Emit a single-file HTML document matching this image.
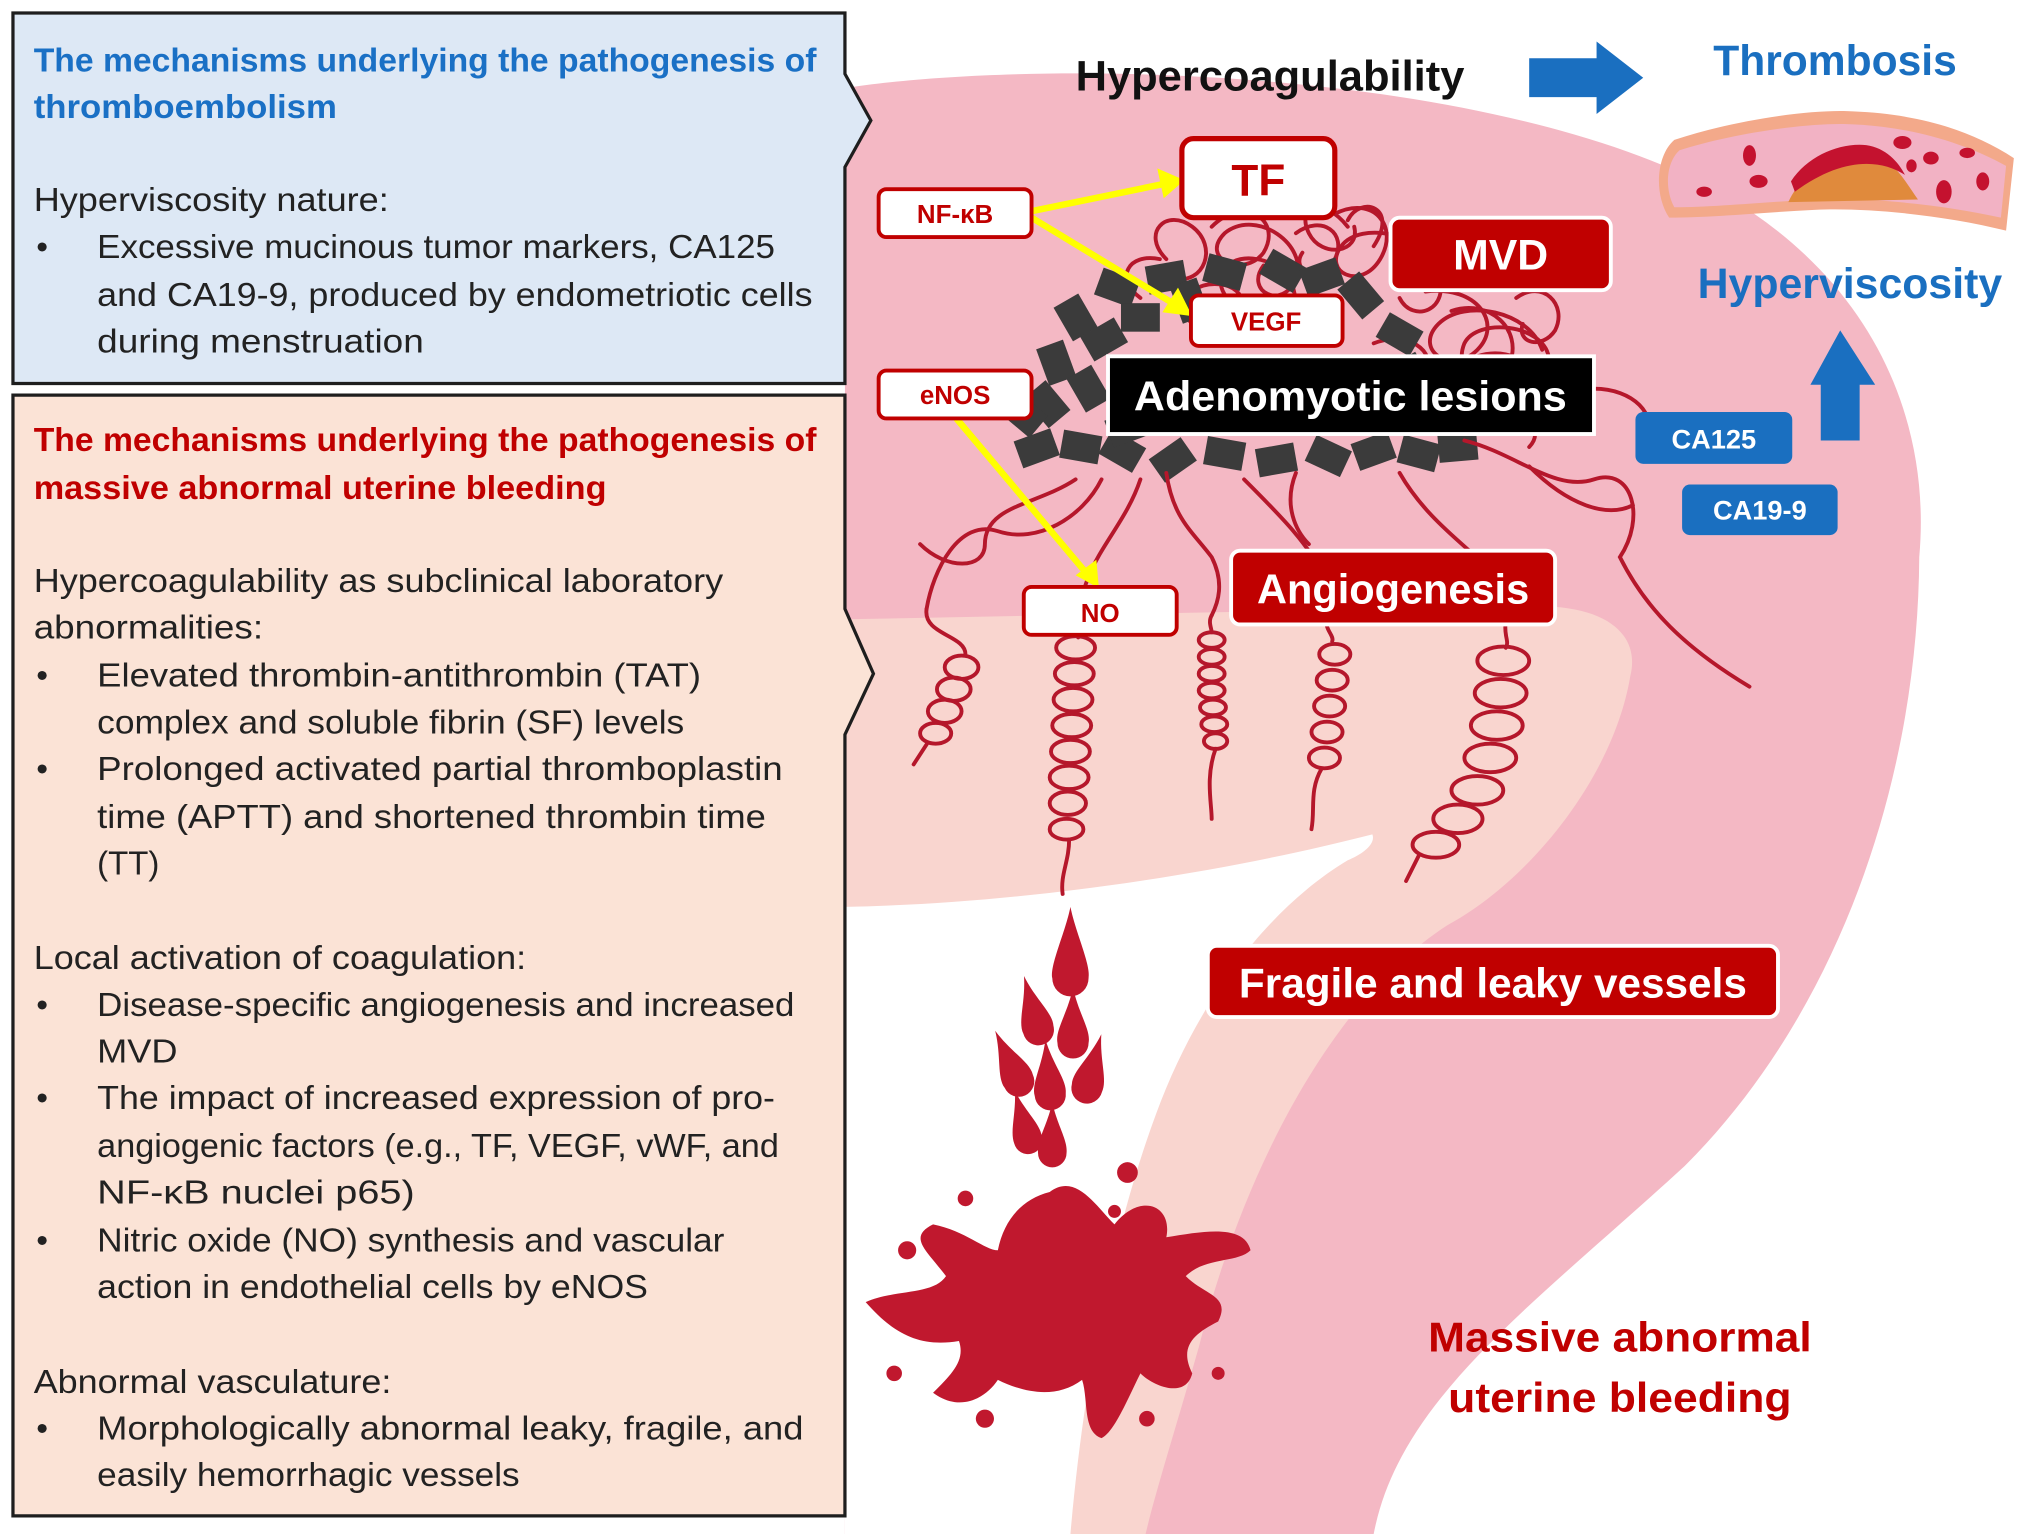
<!DOCTYPE html>
<html><head><meta charset="utf-8"><style>
html,body{margin:0;padding:0;background:#fff;}
svg{display:block;}
text{font-family:"Liberation Sans",sans-serif;}
</style></head><body>
<svg width="2032" height="1534" viewBox="0 0 1568 1184" preserveAspectRatio="none" xmlns="http://www.w3.org/2000/svg">
<rect width="1568" height="1184" fill="#fff"/>
<!-- uterus -->
<path d="M652,68 C800,45 1150,50 1330,150 C1450,220 1490,330 1481,430 C1480,600 1420,780 1300,900 C1180,1010 1080,1080 1060,1184 L652,1184 Z" fill="#f4b8c4"/>
<path d="M652,478 L1180,468 C1240,466 1266,490 1258,522 C1245,600 1180,680 1117,714 C1030,770 960,900 925,1040 C908,1100 892,1150 884,1184 L652,1184 Z" fill="#f9d5cf"/>
<path d="M652,700 C800,697 950,672 1059,644 C1062,652 1050,660 1040,664 C980,700 925,770 892,860 C855,960 835,1080 826,1184 L652,1184 Z" fill="#fff"/>

<!-- red tangled mass (behind tiles) -->
<g fill="none" stroke="#b5172b" stroke-width="3" stroke-linecap="round">
<path d="M935,175 C960,150 990,170 975,195 C960,215 925,200 945,180 C970,160 1010,190 1000,215 C990,240 960,225 975,205"/>
<path d="M1030,165 C1060,150 1080,175 1065,200 C1050,225 1020,210 1035,190 C1050,170 1100,180 1110,210 C1120,240 1090,250 1080,230"/>
<path d="M960,240 C930,225 940,195 970,200 C1000,205 1010,240 985,250"/>
<path d="M1100,225 C1140,220 1160,250 1140,270 C1120,290 1090,270 1110,250 C1130,230 1180,240 1190,270"/>
<path d="M1140,275 C1170,265 1200,290 1185,315 C1170,335 1140,320 1160,300"/>
<path d="M1060,190 C1080,160 1050,150 1040,170"/>
<path d="M900,200 C880,180 900,160 920,175 C940,190 930,220 905,215"/>
<path d="M1100,195 C1130,175 1160,195 1150,220"/>
<path d="M1040,175 C1020,150 1000,160 1010,180 C1020,200 1050,195 1045,175"/>
<path d="M1120,240 C1150,230 1175,255 1165,280 C1150,300 1120,290 1130,265 C1140,245 1190,250 1195,275"/>
<path d="M1170,230 C1190,215 1210,235 1200,255 C1190,270 1170,265 1175,250"/>
<path d="M880,230 C860,215 870,195 895,200"/>
<path d="M1000,180 C1020,165 1040,180 1030,200 C1020,220 995,210 1005,195"/>
<path d="M1150,300 C1170,310 1195,330 1180,345"/>
<path d="M1060,265 C1085,255 1110,270 1100,290"/>
<path d="M920,250 C905,235 920,215 945,220 C965,225 965,250 940,255"/>
</g>

<!-- gray tiles -->
<g fill="#3b3b3b">
<rect x="-15" y="-11" width="30" height="22" transform="translate(830,245) rotate(60)"/>
<rect x="-15" y="-11" width="30" height="22" transform="translate(862,222) rotate(20)"/>
<rect x="-15" y="-11" width="30" height="22" transform="translate(900,214) rotate(-10)"/>
<rect x="-15" y="-11" width="30" height="22" transform="translate(945,210) rotate(15)"/>
<rect x="-15" y="-11" width="30" height="22" transform="translate(990,209) rotate(30)"/>
<rect x="-15" y="-11" width="30" height="22" transform="translate(1050,228) rotate(50)"/>
<rect x="-15" y="-11" width="30" height="22" transform="translate(1080,258) rotate(30)"/>
<rect x="-15" y="-11" width="30" height="22" transform="translate(815,280) rotate(70)"/>
<rect x="-15" y="-11" width="30" height="22" transform="translate(852,262) rotate(-30)"/>
<rect x="-15" y="-11" width="30" height="22" transform="translate(808,312) rotate(50)"/>
<rect x="-15" y="-11" width="30" height="22" transform="translate(840,300) rotate(60)"/>
<rect x="-15" y="-11" width="30" height="22" transform="translate(800,346) rotate(-20)"/>
<rect x="-15" y="-11" width="30" height="22" transform="translate(834,345) rotate(10)"/>
<rect x="-15" y="-11" width="30" height="22" transform="translate(866,348) rotate(30)"/>
<rect x="-15" y="-11" width="30" height="22" transform="translate(905,355) rotate(-35)"/>
<rect x="-15" y="-11" width="30" height="22" transform="translate(945,350) rotate(10)"/>
<rect x="-15" y="-11" width="30" height="22" transform="translate(985,355) rotate(-10)"/>
<rect x="-15" y="-11" width="30" height="22" transform="translate(1025,352) rotate(25)"/>
<rect x="-15" y="-11" width="30" height="22" transform="translate(1060,348) rotate(-20)"/>
<rect x="-15" y="-11" width="30" height="22" transform="translate(1095,350) rotate(15)"/>
<rect x="-15" y="-11" width="30" height="22" transform="translate(1125,345) rotate(-5)"/>
<rect x="-15" y="-11" width="30" height="22" transform="translate(880,245) rotate(0)"/>
<rect x="-15" y="-11" width="30" height="22" transform="translate(1020,214) rotate(-20)"/>
<rect x="-15" y="-11" width="30" height="22" transform="translate(1090,290) rotate(60)"/>
<rect x="-15" y="-11" width="30" height="22" transform="translate(790,320) rotate(40)"/>
<rect x="-15" y="-11" width="30" height="22" transform="translate(870,330) rotate(-20)"/>
<rect x="-15" y="-11" width="30" height="22" transform="translate(918,232) rotate(70)"/>
</g>

<!-- red vessels -->
<g fill="none" stroke="#b5172b" stroke-width="3" stroke-linecap="round">
<path d="M830,370 C800,390 760,390 760,420 C760,440 730,440 710,420"/>
<path d="M850,370 C835,400 800,420 770,410 C740,400 720,440 715,470"/>
<path d="M880,370 C870,400 850,420 840,445"/>
<path d="M900,365 C905,400 920,410 935,430 C945,450 940,465 935,475"/>
<path d="M960,370 C990,400 1010,420 1025,450 C1030,460 1030,470 1025,475"/>
<path d="M1000,365 C990,390 1000,410 1010,420"/>
<path d="M1080,365 C1100,400 1130,420 1150,440 C1160,455 1165,470 1162,480"/>
<path d="M1130,340 C1170,350 1200,380 1230,370 C1260,360 1270,400 1250,430 C1270,470 1300,500 1350,530"/>
<path d="M1180,360 C1210,390 1240,400 1260,390"/>
<path d="M1230,300 C1260,300 1280,320 1270,340"/>
<path d="M715,470 C712,490 745,490 745,505"/>
<ellipse cx="742" cy="515" rx="13" ry="9"/><ellipse cx="736" cy="532" rx="13" ry="9"/><ellipse cx="729" cy="549" rx="13" ry="9"/><ellipse cx="722" cy="566" rx="12" ry="8"/>
<path d="M716,573 L705,590"/>
<path d="M840,445 C830,470 835,480 832,492"/>
<ellipse cx="830" cy="500" rx="15" ry="9"/><ellipse cx="829" cy="520" rx="15" ry="9"/><ellipse cx="828" cy="540" rx="15" ry="9"/><ellipse cx="827" cy="560" rx="15" ry="9"/><ellipse cx="826" cy="580" rx="15" ry="9"/><ellipse cx="825" cy="600" rx="15" ry="9"/><ellipse cx="824" cy="620" rx="14" ry="9"/><ellipse cx="823" cy="640" rx="13" ry="8"/>
<path d="M825,648 C825,665 818,675 820,690"/>
<path d="M935,475 C932,480 935,485 935,488"/>
<ellipse cx="935" cy="494" rx="10" ry="6"/><ellipse cx="935" cy="507" rx="10" ry="6"/><ellipse cx="935" cy="520" rx="10" ry="6"/><ellipse cx="935" cy="533" rx="10" ry="6"/><ellipse cx="936" cy="546" rx="10" ry="6"/><ellipse cx="937" cy="559" rx="10" ry="6"/><ellipse cx="938" cy="572" rx="9" ry="6"/>
<path d="M938,578 C930,600 935,620 935,632"/>
<path d="M1025,475 C1020,485 1030,490 1028,495"/>
<ellipse cx="1030" cy="505" rx="12" ry="8"/><ellipse cx="1028" cy="525" rx="12" ry="8"/><ellipse cx="1026" cy="545" rx="12" ry="8"/><ellipse cx="1024" cy="565" rx="12" ry="8"/><ellipse cx="1022" cy="585" rx="12" ry="8"/>
<path d="M1020,593 C1010,610 1015,625 1012,640"/>
<path d="M1162,480 C1160,490 1165,495 1162,500"/>
<ellipse cx="1160" cy="510" rx="20" ry="11"/><ellipse cx="1158" cy="535" rx="20" ry="11"/><ellipse cx="1155" cy="560" rx="20" ry="11"/><ellipse cx="1150" cy="585" rx="20" ry="11"/><ellipse cx="1140" cy="610" rx="20" ry="11"/><ellipse cx="1125" cy="632" rx="19" ry="11"/><ellipse cx="1108" cy="652" rx="18" ry="10"/>
<path d="M1095,660 L1085,680"/>
</g>

<!-- blood drops -->
<g fill="#c0182e">
<path d="M826,700 C830,720 842,745 840,755 A14,14 0 0 1 812,755 C810,745 822,720 826,700 Z"/>
<path d="M0,-38 C4,-18 14,-5 12,5 A12,12 0 0 1 -12,5 C-14,-5 -4,-18 0,-38 Z" transform="translate(800,790) rotate(-15)"/>
<path d="M0,-38 C4,-18 14,-5 12,5 A12,12 0 0 1 -12,5 C-14,-5 -4,-18 0,-38 Z" transform="translate(828,800)"/>
<path d="M0,-38 C4,-18 14,-5 12,5 A12,12 0 0 1 -12,5 C-14,-5 -4,-18 0,-38 Z" transform="translate(784,830) rotate(-25)"/>
<path d="M0,-38 C4,-18 14,-5 12,5 A12,12 0 0 1 -12,5 C-14,-5 -4,-18 0,-38 Z" transform="translate(810,840) rotate(-5)"/>
<path d="M0,-38 C4,-18 14,-5 12,5 A12,12 0 0 1 -12,5 C-14,-5 -4,-18 0,-38 Z" transform="translate(840,835) rotate(15)"/>
<path d="M0,-34 C4,-16 12,-5 11,5 A11,11 0 0 1 -11,5 C-12,-5 -4,-16 0,-34 Z" transform="translate(792,875) rotate(-15)"/>
<path d="M0,-34 C4,-16 12,-5 11,5 A11,11 0 0 1 -11,5 C-12,-5 -4,-16 0,-34 Z" transform="translate(812,885)"/>
<path d="M810,920 C830,905 845,930 860,945 C880,920 905,930 900,955 C930,950 960,945 965,965 C955,975 930,970 915,985 C930,1000 950,1000 940,1020 C920,1030 910,1040 920,1060 C915,1080 890,1070 880,1060 C870,1080 860,1105 850,1110 C835,1105 840,1080 835,1065 C815,1080 790,1075 770,1065 C760,1080 740,1090 720,1075 C735,1060 745,1050 740,1035 C710,1040 690,1030 668,1005 C690,995 720,1000 730,985 C715,965 700,955 720,945 C745,950 760,965 770,965 C775,940 790,925 810,920 Z"/>
<circle cx="700" cy="965" r="7"/><circle cx="745" cy="925" r="6"/><circle cx="870" cy="905" r="8"/><circle cx="690" cy="1060" r="6"/><circle cx="760" cy="1095" r="7"/><circle cx="885" cy="1095" r="6"/><circle cx="940" cy="1060" r="5"/><circle cx="860" cy="935" r="5"/>
</g>

<!-- left boxes -->
<path d="M10,10 H652 V57 L672,93 L652,129 V296 H10 Z" fill="#dde8f5" stroke="#1e1e1e" stroke-width="2.5"/>
<path d="M10,305 H652 V470 L674,520 L652,567 V1170 H10 Z" fill="#fbe3d6" stroke="#1e1e1e" stroke-width="2.5"/>
<g font-size="26" fill="#222">
<g font-weight="bold" fill="#1a70c5">
<text x="26" y="55" textLength="604" lengthAdjust="spacingAndGlyphs">The mechanisms underlying the pathogenesis of</text>
<text x="26" y="91" textLength="234" lengthAdjust="spacingAndGlyphs">thromboembolism</text>
</g>
<text x="26" y="163" textLength="274" lengthAdjust="spacingAndGlyphs">Hyperviscosity nature:</text>
<text x="28" y="199">•</text>
<text x="75" y="199" textLength="523" lengthAdjust="spacingAndGlyphs">Excessive mucinous tumor markers, CA125</text>
<text x="75" y="236" textLength="552" lengthAdjust="spacingAndGlyphs">and CA19-9, produced by endometriotic cells</text>
<text x="75" y="272" textLength="252" lengthAdjust="spacingAndGlyphs">during menstruation</text>
<g font-weight="bold" fill="#c00000">
<text x="26" y="348" textLength="604" lengthAdjust="spacingAndGlyphs">The mechanisms underlying the pathogenesis of</text>
<text x="26" y="385" textLength="442" lengthAdjust="spacingAndGlyphs">massive abnormal uterine bleeding</text>
</g>
<text x="26" y="457" textLength="532" lengthAdjust="spacingAndGlyphs">Hypercoagulability as subclinical laboratory</text>
<text x="26" y="493" textLength="177" lengthAdjust="spacingAndGlyphs">abnormalities:</text>
<text x="28" y="530">•</text>
<text x="75" y="530" textLength="466" lengthAdjust="spacingAndGlyphs">Elevated thrombin-antithrombin (TAT)</text>
<text x="75" y="566" textLength="453" lengthAdjust="spacingAndGlyphs">complex and soluble fibrin (SF) levels</text>
<text x="28" y="602">•</text>
<text x="75" y="602" textLength="529" lengthAdjust="spacingAndGlyphs">Prolonged activated partial thromboplastin</text>
<text x="75" y="639" textLength="516" lengthAdjust="spacingAndGlyphs">time (APTT) and shortened thrombin time</text>
<text x="75" y="675" textLength="48" lengthAdjust="spacingAndGlyphs">(TT)</text>
<text x="26" y="748" textLength="380" lengthAdjust="spacingAndGlyphs">Local activation of coagulation:</text>
<text x="28" y="784">•</text>
<text x="75" y="784" textLength="538" lengthAdjust="spacingAndGlyphs">Disease-specific angiogenesis and increased</text>
<text x="75" y="820" textLength="62" lengthAdjust="spacingAndGlyphs">MVD</text>
<text x="28" y="856">•</text>
<text x="75" y="856" textLength="523" lengthAdjust="spacingAndGlyphs">The impact of increased expression of pro-</text>
<text x="75" y="893" textLength="526" lengthAdjust="spacingAndGlyphs">angiogenic factors (e.g., TF, VEGF, vWF, and</text>
<text x="75" y="929" textLength="245" lengthAdjust="spacingAndGlyphs">NF-κB nuclei p65)</text>
<text x="28" y="966">•</text>
<text x="75" y="966" textLength="484" lengthAdjust="spacingAndGlyphs">Nitric oxide (NO) synthesis and vascular</text>
<text x="75" y="1002" textLength="425" lengthAdjust="spacingAndGlyphs">action in endothelial cells by eNOS</text>
<text x="26" y="1075" textLength="276" lengthAdjust="spacingAndGlyphs">Abnormal vasculature:</text>
<text x="28" y="1111">•</text>
<text x="75" y="1111" textLength="545" lengthAdjust="spacingAndGlyphs">Morphologically abnormal leaky, fragile, and</text>
<text x="75" y="1147" textLength="326" lengthAdjust="spacingAndGlyphs">easily hemorrhagic vessels</text>
</g>

<!-- top labels -->
<text x="830" y="70" font-size="33" font-weight="bold" fill="#111" textLength="300" lengthAdjust="spacingAndGlyphs">Hypercoagulability</text>
<path d="M1180,45 H1232 V32 L1268,60 L1232,88 V75 H1180 Z" fill="#1a6fc0"/>
<text x="1322" y="58" font-size="33" font-weight="bold" fill="#1a6fc0" textLength="188" lengthAdjust="spacingAndGlyphs">Thrombosis</text>
<!-- vessel -->
<path d="M1292,108 C1340,92 1400,84 1430,86 C1480,88 1520,100 1554,122 L1548,178 C1500,166 1440,160 1400,162 C1360,164 1320,168 1288,168 C1276,150 1278,120 1292,108 Z" fill="#f3a98a"/>
<path d="M1296,116 C1340,102 1400,94 1430,96 C1475,98 1515,110 1548,128 L1544,168 C1500,158 1440,152 1400,154 C1360,156 1322,160 1292,160 C1284,145 1286,125 1296,116 Z" fill="#f2b2c4"/>
<path d="M1380,156 C1395,125 1420,118 1440,118 C1460,120 1470,140 1480,154 Z" fill="#e08a3c"/>
<path d="M1382,140 C1395,120 1420,110 1440,112 C1455,114 1465,125 1470,135 C1450,122 1420,122 1385,148 Z" fill="#c4122f"/>
<g fill="#c4122f"><ellipse cx="1350" cy="120" rx="5" ry="8"/><ellipse cx="1315" cy="148" rx="6" ry="4"/><ellipse cx="1357" cy="140" rx="7" ry="5"/><ellipse cx="1468" cy="110" rx="7" ry="5"/><ellipse cx="1490" cy="122" rx="6" ry="5"/><ellipse cx="1518" cy="118" rx="6" ry="4"/><ellipse cx="1500" cy="148" rx="6" ry="9"/><ellipse cx="1530" cy="140" rx="5" ry="7"/><ellipse cx="1475" cy="128" rx="4" ry="5"/></g>
<text x="1310" y="230" font-size="33" font-weight="bold" fill="#1a6fc0" textLength="235" lengthAdjust="spacingAndGlyphs">Hyperviscosity</text>
<path d="M1405,340 V297 H1397 L1420,255 L1447,297 H1435 V340 Z" fill="#1a6fc0"/>
<rect x="1262" y="318" width="121" height="40" rx="6" fill="#1a6fc0"/>
<text x="1322.5" y="346" font-size="21" font-weight="bold" fill="#fff" text-anchor="middle">CA125</text>
<rect x="1298" y="374" width="120" height="39" rx="6" fill="#1a6fc0"/>
<text x="1358" y="401" font-size="21" font-weight="bold" fill="#fff" text-anchor="middle">CA19-9</text>

<!-- yellow arrows -->
<g stroke="#ffff00" stroke-width="5" fill="none">
<line x1="796" y1="163" x2="898" y2="142"/>
<line x1="796" y1="168" x2="905" y2="234"/>
<line x1="738" y1="323" x2="838" y2="442"/>
</g>
<g fill="#ffff00">
<path d="M914,139 L893,130 L898,153 Z"/>
<path d="M920,244 L897,241 L909,222 Z"/>
<path d="M848,454 L830,444 L846,432 Z"/>
</g>

<!-- small red boxes -->
<g stroke="#c00000" fill="#fff">
<rect x="912" y="107" width="118" height="61" rx="9" stroke-width="4"/>
<rect x="678" y="146" width="118" height="37" rx="6" stroke-width="3"/>
<rect x="919" y="228" width="117" height="39" rx="6" stroke-width="3"/>
<rect x="678" y="286" width="118" height="37" rx="6" stroke-width="3"/>
<rect x="790" y="453" width="118" height="37" rx="6" stroke-width="3"/>
</g>
<g fill="#c00000" font-weight="bold" text-anchor="middle">
<text x="971" y="151" font-size="34">TF</text>
<text x="737" y="172" font-size="20">NF-κB</text>
<text x="977" y="255" font-size="20">VEGF</text>
<text x="737" y="312" font-size="20">eNOS</text>
<text x="849" y="480" font-size="20">NO</text>
</g>
<g fill="#c00000" stroke="#fff" stroke-width="3">
<rect x="1073" y="168" width="170" height="56" rx="7"/>
<rect x="950" y="425" width="250" height="57" rx="7"/>
<rect x="932" y="730" width="440" height="55" rx="7"/>
</g>
<rect x="855" y="275" width="375" height="60" fill="#000" stroke="#fff" stroke-width="3"/>
<g fill="#fff" font-weight="bold" text-anchor="middle">
<text x="1158" y="208" font-size="33">MVD</text>
<text x="1075" y="466" font-size="32" textLength="210" lengthAdjust="spacingAndGlyphs">Angiogenesis</text>
<text x="1152" y="770" font-size="32" textLength="392" lengthAdjust="spacingAndGlyphs">Fragile and leaky vessels</text>
<text x="1042" y="317" font-size="32" textLength="334" lengthAdjust="spacingAndGlyphs">Adenomyotic lesions</text>
</g>
<g fill="#c00000" font-weight="bold" font-size="32" text-anchor="middle">
<text x="1250" y="1043" textLength="296" lengthAdjust="spacingAndGlyphs">Massive abnormal</text>
<text x="1250" y="1090" textLength="265" lengthAdjust="spacingAndGlyphs">uterine bleeding</text>
</g>
</svg>
</body></html>
